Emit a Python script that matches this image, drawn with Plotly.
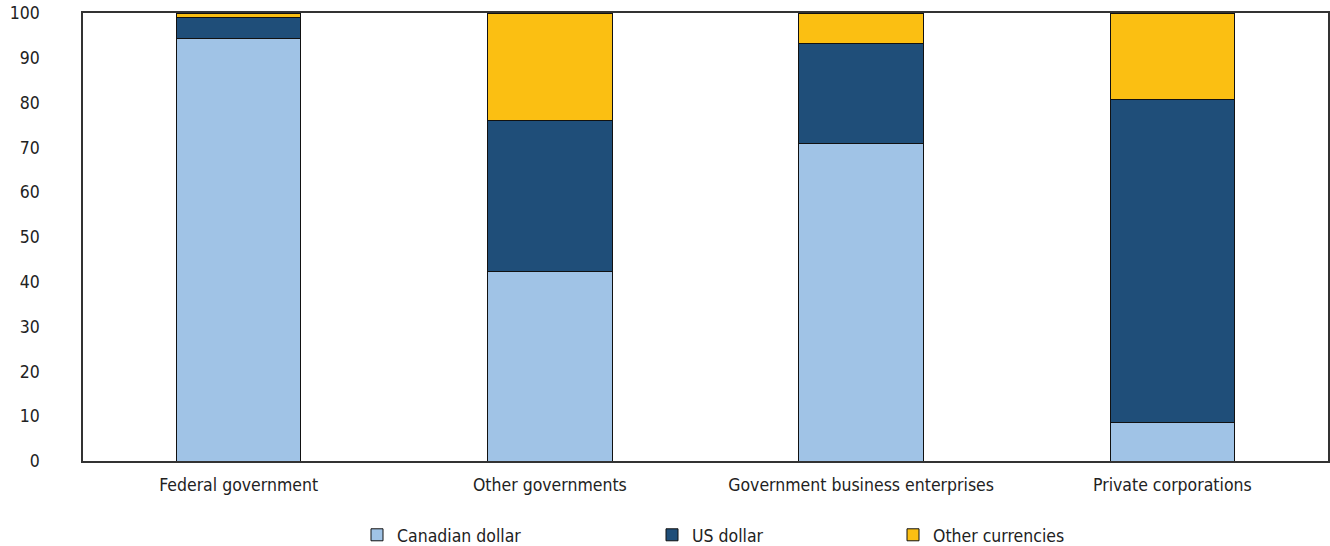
import plotly.graph_objects as go

categories = ["Federal government", "Other governments", "Government business enterprises", "Private corporations"]
canadian_dollar = [94.2, 42.2, 70.8, 8.5]
us_dollar = [4.9, 33.9, 22.3, 72.1]
other_currencies = [0.9, 23.9, 6.9, 19.4]
y_ticks = [0, 10, 20, 30, 40, 50, 60, 70, 80, 90, 100]

FONT = "'Liberation Sans Narrow', 'DejaVu Sans Condensed', 'Arial Narrow', sans-serif"
FS = 17.5

series = [
    ("Canadian dollar", canadian_dollar, "#A0C3E6", "legend"),
    ("US dollar", us_dollar, "#1F4E79", "legend2"),
    ("Other currencies", other_currencies, "#FBBF12", "legend3"),
]

fig = go.Figure()
for name, vals, color, lg in series:
    fig.add_trace(go.Bar(
        x=categories, y=vals, name=name, legend=lg, showlegend=True,
        marker=dict(color=color, line=dict(color="#111111", width=1)),
        width=0.4,
    ))

legend_common = dict(orientation="h", yanchor="middle", y=-0.165, xanchor="left",
                     font=dict(family=FONT, size=FS, color="#222222"),
                     bgcolor="rgba(0,0,0,0)")

fig.update_layout(
    barmode="stack",
    showlegend=True,
    width=1330, height=546,
    margin=dict(l=83, r=2, t=13, b=85, autoexpand=False),
    paper_bgcolor="white", plot_bgcolor="white",
    font=dict(family=FONT, size=FS, color="#222222"),
    legend=dict(x=(357 - 83) / 1245, **legend_common),
    legend2=dict(x=(652 - 83) / 1245, **legend_common),
    legend3=dict(x=(893 - 83) / 1245, **legend_common),
    xaxis=dict(showline=True, linecolor="#333333", linewidth=1.5, mirror=True,
               ticks="", showgrid=False, ticklabelstandoff=7, automargin=False,
               tickfont=dict(family=FONT, size=FS, color="#222222")),
    yaxis=dict(range=[0, 100], tickvals=y_ticks, showline=True, linecolor="#333333",
               linewidth=1.5, mirror=True, showgrid=False, ticks="", zeroline=False,
               ticklabelstandoff=38, automargin=False,
               tickfont=dict(family=FONT, size=FS, color="#222222")),
)

fig.write_html("out.html")
